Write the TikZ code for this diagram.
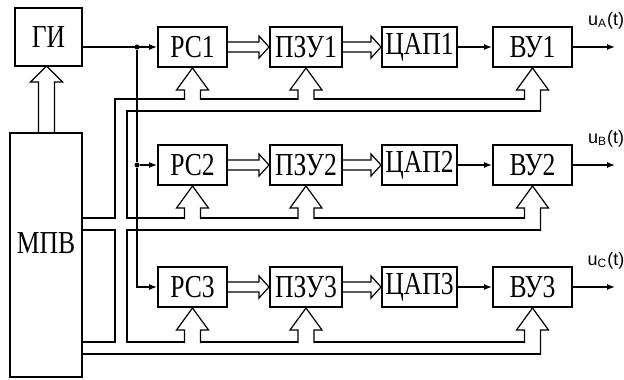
\documentclass[tikz,border=0pt]{standalone}
\usepackage{fontspec}
\setmainfont{Liberation Serif}
\newfontfamily\lblfont{Liberation Sans}
\newfontfamily\boxfont[FakeStretch=0.8]{Liberation Serif}
\usetikzlibrary{positioning, arrows.meta, calc}

\begin{document}
\begin{tikzpicture}[x=0.5pt, y=-0.5pt,
    blk/.style={draw, line width=1pt, minimum height=20pt, inner sep=0pt,
                font=\boxfont\fontsize{16}{16}\selectfont},
    wire/.style={line width=0.6pt},
    sig/.style={wire, -{Latex[length=4pt, width=3pt]}},
    dot/.style={circle, fill, inner sep=0pt, minimum size=2.5pt}]
  \useasboundingbox (0,0) rectangle (624,379);

  % Generator and microprocessor
  \node[blk, minimum width=33.5pt, minimum height=29pt] (gi) at (48.5,37) {ГИ};
  \node[blk, minimum width=36pt, minimum height=122pt] (mpv) at (46,255) {};
  \node[font=\boxfont\fontsize{16}{16}\selectfont] (mpvtxt) at (46,243) {МПВ};
  \draw[wire] (38.5,133) -- (38.5,82) -- (30.5,82) -- (46.5,66) -- (62.5,82) -- (54.5,82) -- (54.5,133);

  % Channels
  \foreach \r/\c/\u/\s in {1/47/99/A, 2/165/218/B, 3/287/342/C}{
    \node[blk, minimum width=34.5pt] (rc\r) at (192.5,\c) {РС\r};
    \node[blk, minimum width=36pt] (pzu\r) at (306,\c) {ПЗУ\r};
    \node[blk, minimum width=37.5pt] (dac\r) at (419.5,\c) {ЦАП\r};
    \node[blk, minimum width=39.5pt] (vu\r) at (532.5,\c) {ВУ\r};
    % wide arrows along the row
    \draw[wire] ($(rc\r.east)+(0,-5)$) -- ($(pzu\r.west)+(-10,-5)$) -- ++(0,-6)
      -- (pzu\r.west) -- ++(-10,11) -- ++(0,-6) -- ($(rc\r.east)+(0,5)$);
    \draw[wire] ($(pzu\r.east)+(0,-5)$) -- ($(dac\r.west)+(-10,-5)$) -- ++(0,-6)
      -- (dac\r.west) -- ++(-10,11) -- ++(0,-6) -- ($(pzu\r.east)+(0,5)$);
    \draw[sig] (dac\r) -- (vu\r);
    \coordinate (out\r) at (615,\c);
    \draw[sig] (vu\r) -- (out\r);
    \node[font=\lblfont\fontsize{9}{9}\selectfont, anchor=south] (u\r) at (606,{\c-11}) {u\textsubscript{\s}(t)};
    % bus taps
    \foreach \n in {rc\r, pzu\r}{
      \draw[wire] ($(\n.south)+(-8,\u-\c-20)$) -- ++(0,{-(\u-\c-42)}) -- ++(-8,0)
        -- (\n.south) -- ++(16,22) -- ++(-8,0) -- ++(0,{\u-\c-42});
    }
    \draw[wire] ($(vu\r.south)+(-8,\u-\c-20)$) -- ++(0,{-(\u-\c-42)}) -- ++(-8,0)
      -- (vu\r.south) -- ++(16,22) -- ++(-8,0) -- ++(0,{\u-\c-30});
    \draw[wire] (200.5,\u) -- (298,\u) (314,\u) -- (524.5,\u);
  }

  % Buses from the microprocessor
  \draw[wire] (82,218) -| (115,99) -- (184.5,99);
  \draw[wire] (540.5,111) -- (127,111) |- (184.5,218);
  \draw[wire] (82,230) -| (115,342) -- (82,342);
  \draw[wire] (540.5,230) -- (127,230) |- (184.5,342);
  \draw[wire] (82,354) -- (540.5,354);

  % Clock
  \node[dot] (d1) at (137,47) {};
  \node[dot] (d2) at (137,165) {};
  \draw[sig] (gi.east |- rc1.west) -- (rc1.west);
  \draw[wire] (d1) -- (d2);
  \draw[sig] (d2) -- (rc2);
  \draw[sig] (d2) |- (rc3);
\end{tikzpicture}
\end{document}
